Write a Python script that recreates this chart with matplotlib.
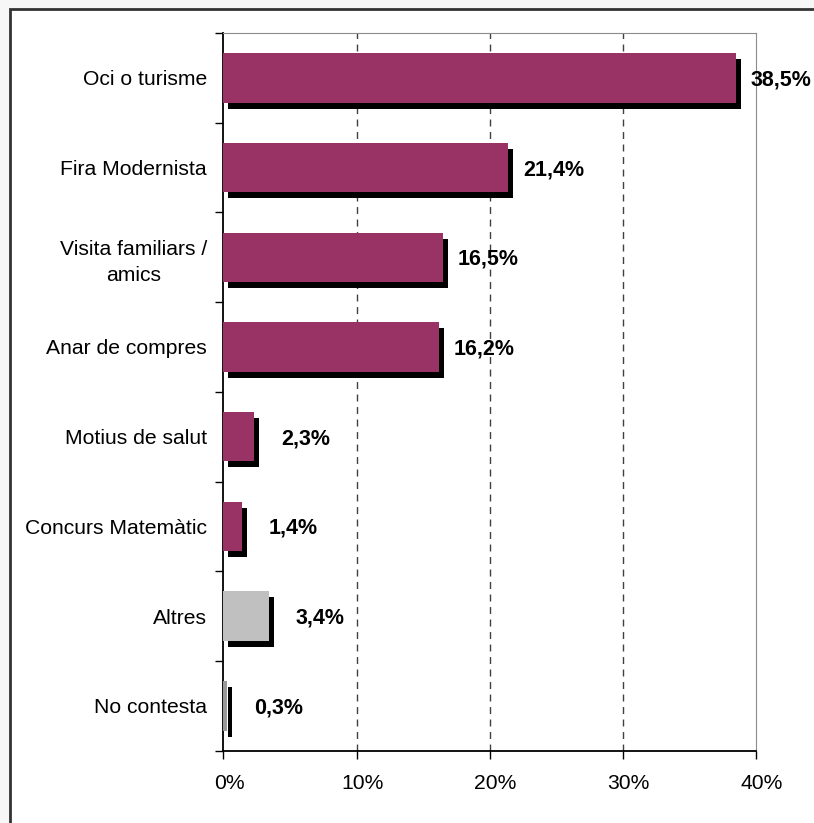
import matplotlib
matplotlib.use("Agg")
import matplotlib.pyplot as plt
import matplotlib.transforms as mtransforms
from matplotlib.patches import Rectangle

plt.rcParams['font.family'] = ['Liberation Sans', 'DejaVu Sans']

# data
categories = ["Oci o turisme", "Fira Modernista", "Visita familiars /\namics",
              "Anar de compres", "Motius de salut", "Concurs Matemàtic",
              "Altres", "No contesta"]
values = [38.5, 21.4, 16.5, 16.2, 2.3, 1.4, 3.4, 0.3]
value_labels = ["38,5%", "21,4%", "16,5%", "16,2%", "2,3%", "1,4%", "3,4%", "0,3%"]
bar_colors = ["#993366"] * 6 + ["#C0C0C0", "#999999"]
x_ticks = [0, 10, 20, 30, 40]
x_ticklabels = ["0%", "10%", "20%", "30%", "40%"]

fig = plt.figure(figsize=(8.14, 8.23), dpi=100, facecolor="#f7f7f7")

# white chart area with the dark frame on left/top
fig.patches.append(Rectangle((10 / 814, -0.05), 1.1, 1 - 9 / 823 + 0.05,
                             transform=fig.transFigure, facecolor="white",
                             edgecolor="#333333", linewidth=2, zorder=-10))

ax = fig.add_axes([223.5 / 814, 1 - 750.7 / 823, (755.7 - 223.5) / 814, (750.7 - 33) / 823])
ax.set_zorder(1)
ax.set_facecolor("white")

ypos = list(range(len(categories)))
bar_h = 0.55

# shadows shifted right/down
shadow_tr = mtransforms.offset_copy(ax.transData, fig=fig, x=5, y=-6, units='dots')
shadows = ax.barh(ypos, values, height=bar_h, color="black", zorder=2)
for s in shadows:
    s.set_transform(shadow_tr)
ax.barh(ypos, values, height=bar_h, color=bar_colors, zorder=3)

for y, v, lab in zip(ypos, values, value_labels):
    ax.annotate(lab, (v, y), xytext=(76, -2), textcoords='offset pixels',
                ha='right', va='center', fontsize=15.5, fontweight='bold',
                annotation_clip=False, zorder=4)

for g in [10, 20, 30]:
    ax.axvline(g, color="#404040", linewidth=1, linestyle=(0, (5, 4)), zorder=1)

ax.set_xlim(0, 40)
ax.set_ylim(len(categories) - 0.5, -0.5)

# category boundaries get tick marks, labels sit between them
ax.set_yticks([i - 0.5 for i in range(len(categories) + 1)])
ax.set_yticklabels([])
ax.set_yticks(ypos, minor=True)
ax.set_yticklabels(categories, minor=True, fontsize=15.2, multialignment='center',
                   linespacing=1.45)
ax.tick_params(axis='y', which='major', length=6, width=1, direction='out')
ax.tick_params(axis='y', which='minor', length=0, pad=12)

ax.set_xticks(x_ticks)
ax.set_xticklabels(x_ticklabels, fontsize=15.2)
ax.tick_params(axis='x', length=6, width=1, direction='out', pad=11)
for lbl in ax.get_xticklabels():
    lbl.set_transform(lbl.get_transform() + mtransforms.ScaledTranslation(6 / 100, 0, fig.dpi_scale_trans))

ax.spines['left'].set_color("black")
ax.spines['bottom'].set_color("black")
ax.spines['left'].set_linewidth(1.3)
ax.spines['bottom'].set_linewidth(1.3)
ax.spines['top'].set_color("#8c8c8c")
ax.spines['right'].set_color("#8c8c8c")

fig.savefig("out.png", dpi=100, facecolor=fig.get_facecolor())
